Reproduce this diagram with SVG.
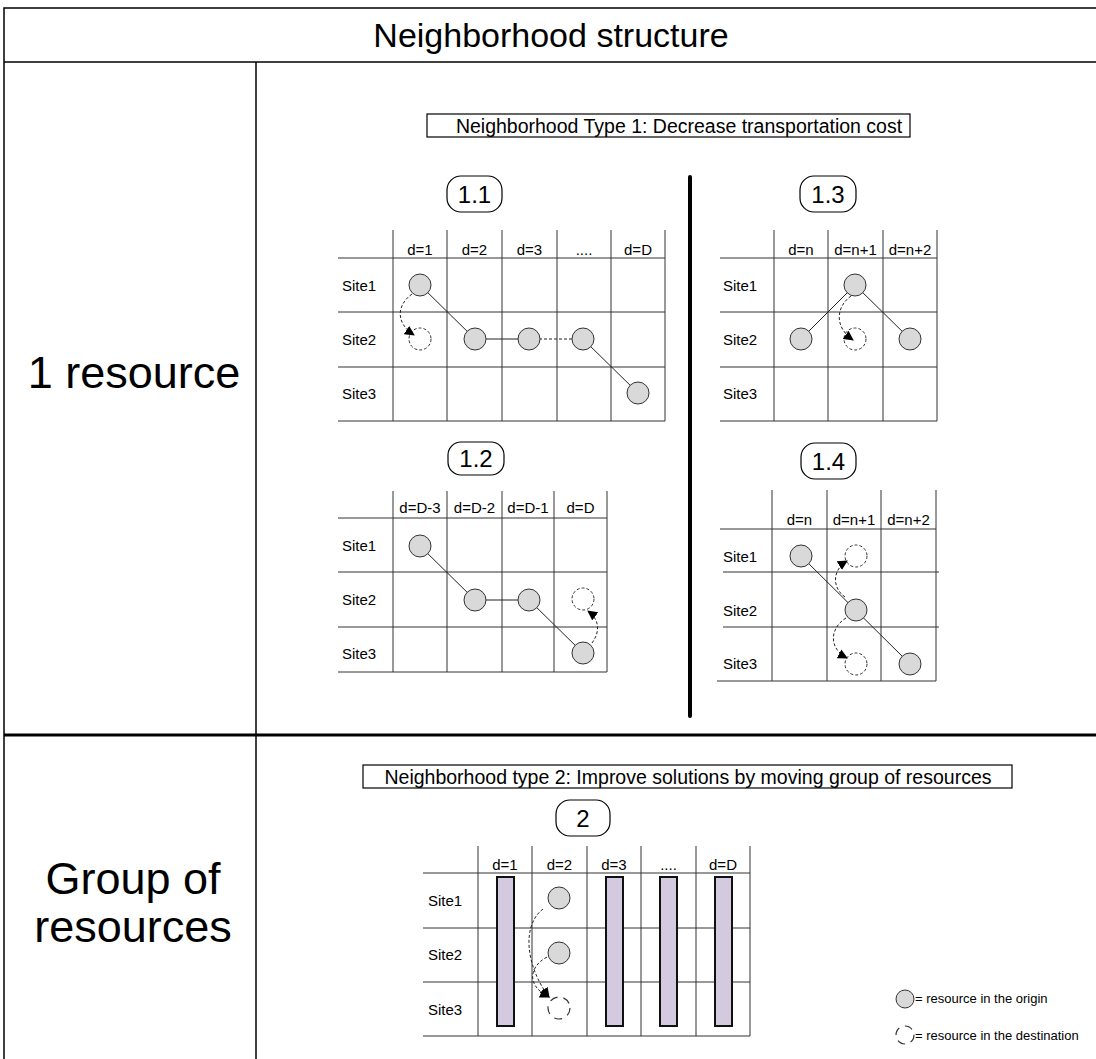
<svg xmlns="http://www.w3.org/2000/svg" width="1096" height="1059" viewBox="0 0 1096 1059">
  <style>
    text { font-family: "Liberation Sans", Arial, sans-serif; fill: #000; }
    .big { font-size: 45px; text-anchor: middle; }
    .title { font-size: 34px; text-anchor: middle; }
    .box { fill: #fff; stroke: #000; stroke-width: 1.2; }
    .boxt { font-size: 19.5px; text-anchor: middle; }
    .tag { fill: #fff; stroke: #000; stroke-width: 1.2; }
    .tagt { font-size: 24px; text-anchor: middle; }
    .grid { stroke: #333; stroke-width: 1; fill: none; }
    .hd { font-size: 15px; text-anchor: middle; }
    .site { font-size: 15px; }
    .res { fill: #d9d9d9; stroke: #333; stroke-width: 1; }
    .dest { fill: #fff; stroke: #333; stroke-width: 1; stroke-dasharray: 3 2; }
    .destl { fill: #fff; stroke: #333; stroke-width: 1.2; stroke-dasharray: 8 6; }
    .link { stroke: #222; stroke-width: 1; fill: none; }
    .linkd { stroke: #222; stroke-width: 1; fill: none; stroke-dasharray: 3 2; }
    .mv { stroke: #222; stroke-width: 1; fill: none; stroke-dasharray: 3 2; marker-end: url(#ah); }
    .bar { fill: #d4cae0; stroke: #111; stroke-width: 2; }
    .leg { font-size: 13px; }
  </style>
  <defs>
    <marker id="ah" viewBox="0 0 10 10" refX="9" refY="5" markerWidth="10" markerHeight="10" markerUnits="userSpaceOnUse" orient="auto">
      <path d="M0,0 L10,5 L0,10 z" fill="#000"/>
    </marker>
  </defs>

  <!-- frame and table -->
  <g id="table">
    <rect x="4" y="8" width="1100" height="1060" fill="#fff" stroke="#000" stroke-width="1.5"/>
    <line x1="4" y1="62" x2="1096" y2="62" stroke="#000" stroke-width="1.5"/>
    <line x1="256" y1="62" x2="256" y2="1059" stroke="#000" stroke-width="1.5"/>
    <line x1="4" y1="735" x2="1096" y2="735" stroke="#000" stroke-width="3"/>
    <text class="title" x="551" y="47">Neighborhood structure</text>
    <text class="big" x="134" y="388">1 resource</text>
    <text class="big" x="133" y="894">Group of</text>
    <text class="big" x="133" y="942">resources</text>
  </g>

  <!-- neighborhood type 1 heading -->
  <g id="type1-label">
    <rect class="box" x="427" y="114" width="483" height="23"/>
    <text class="boxt" x="679" y="132.5">Neighborhood Type 1: Decrease transportation cost</text>
  </g>

  <!-- separator between 1.1/1.2 and 1.3/1.4 -->
  <line x1="690" y1="177" x2="690" y2="716" stroke="#000" stroke-width="4" stroke-linecap="round"/>

  <!-- 1.1 -->
  <g id="n11">
    <rect class="tag" x="447" y="176" width="55" height="36" rx="14"/>
    <text class="tagt" x="474.5" y="203">1.1</text>
    <path class="grid" d="M393,230V421 M447,230V421 M502,230V421 M557,230V421 M611,230V421 M665,230V421 M338,258H665 M338,312H665 M338,367H665 M338,421H665"/>
    <text class="hd" x="420" y="255">d=1</text>
    <text class="hd" x="474.5" y="255">d=2</text>
    <text class="hd" x="529.5" y="255">d=3</text>
    <text class="hd" x="584" y="255">....</text>
    <text class="hd" x="638" y="255">d=D</text>
    <text class="site" x="342" y="291">Site1</text>
    <text class="site" x="342" y="345">Site2</text>
    <text class="site" x="342" y="399">Site3</text>
  </g>

  <!-- 1.3 -->
  <g id="n13">
    <rect class="tag" x="800" y="176" width="56" height="36" rx="14"/>
    <text class="tagt" x="828" y="203">1.3</text>
    <path class="grid" d="M774,230V421 M828,230V421 M883,230V421 M937,230V421 M720,258H937 M720,312H937 M720,367H937 M720,421H937"/>
    <text class="hd" x="801" y="255">d=n</text>
    <text class="hd" x="855.5" y="255">d=n+1</text>
    <text class="hd" x="910" y="255">d=n+2</text>
    <text class="site" x="723" y="291">Site1</text>
    <text class="site" x="723" y="345">Site2</text>
    <text class="site" x="723" y="399">Site3</text>
  </g>

  <!-- 1.2 -->
  <g id="n12">
    <rect class="tag" x="448" y="442" width="56" height="33" rx="13"/>
    <text class="tagt" x="476" y="467">1.2</text>
    <path class="grid" d="M393,491V672 M447,491V672 M502,491V672 M554,491V672 M607,491V672 M338,518H607 M338,572H607 M338,627H607 M338,672H607"/>
    <text class="hd" x="420" y="513">d=D-3</text>
    <text class="hd" x="474.5" y="513">d=D-2</text>
    <text class="hd" x="528" y="513">d=D-1</text>
    <text class="hd" x="580.5" y="513">d=D</text>
    <text class="site" x="342" y="551">Site1</text>
    <text class="site" x="342" y="605">Site2</text>
    <text class="site" x="342" y="659">Site3</text>
  </g>

  <!-- 1.4 -->
  <g id="n14">
    <rect class="tag" x="801" y="443" width="55" height="36" rx="14"/>
    <text class="tagt" x="828.5" y="470">1.4</text>
    <path class="grid" d="M772,490V681 M827,490V681 M881,490V681 M936,490V681 M720,529H936 M723,572H939 M723,627H939 M717,681H936"/>
    <text class="hd" x="799.5" y="525">d=n</text>
    <text class="hd" x="854" y="525">d=n+1</text>
    <text class="hd" x="908.5" y="525">d=n+2</text>
    <text class="site" x="723" y="562">Site1</text>
    <text class="site" x="723" y="616">Site2</text>
    <text class="site" x="723" y="669">Site3</text>
  </g>

  <!-- neighborhood type 2 heading -->
  <g id="type2-label">
    <rect class="box" x="363" y="765" width="649" height="23"/>
    <text class="boxt" x="688" y="783.5">Neighborhood type 2: Improve solutions by moving group of resources</text>
  </g>

  <!-- 2 -->
  <g id="n2">
    <rect class="tag" x="556" y="800" width="54" height="36" rx="14"/>
    <text class="tagt" x="583" y="827">2</text>
    <path class="grid" d="M478,846V1036 M532,846V1036 M587,846V1036 M641,846V1036 M696,846V1036 M750,846V1036 M423,873H750 M423,928H750 M423,982H750 M423,1036H750"/>
    <text class="hd" x="505" y="870">d=1</text>
    <text class="hd" x="559.5" y="870">d=2</text>
    <text class="hd" x="614" y="870">d=3</text>
    <text class="hd" x="668.5" y="870">....</text>
    <text class="hd" x="723" y="870">d=D</text>
    <text class="site" x="428" y="906">Site1</text>
    <text class="site" x="428" y="960">Site2</text>
    <text class="site" x="428" y="1015">Site3</text>
    <rect class="bar" x="497" y="877" width="17" height="149"/>
    <rect class="bar" x="606" y="877" width="17" height="149"/>
    <rect class="bar" x="660" y="877" width="17" height="149"/>
    <rect class="bar" x="715" y="877" width="17" height="149"/>
  </g>

  <!-- connectors: resource links -->
  <g id="connectors">
    <!-- 1.1 -->
    <line class="link" x1="420" y1="285" x2="475" y2="339"/>
    <line class="link" x1="475" y1="339" x2="529" y2="339"/>
    <line class="linkd" x1="529" y1="339" x2="583" y2="339"/>
    <line class="link" x1="583" y1="339" x2="638" y2="393"/>
    <!-- 1.3 -->
    <line class="link" x1="855" y1="285" x2="801" y2="339"/>
    <line class="link" x1="855" y1="285" x2="910" y2="339"/>
    <!-- 1.2 -->
    <line class="link" x1="420" y1="546" x2="475" y2="600"/>
    <line class="link" x1="475" y1="600" x2="529" y2="600"/>
    <line class="link" x1="529" y1="600" x2="583" y2="653"/>
    <!-- 1.4 -->
    <line class="link" x1="801" y1="556" x2="910" y2="664"/>
  </g>

  <!-- resources -->
  <g id="resources">
    <circle class="res" cx="420" cy="285" r="11"/>
    <circle class="dest" cx="420" cy="339" r="11"/>
    <circle class="res" cx="475" cy="339" r="11"/>
    <circle class="res" cx="529" cy="339" r="11"/>
    <circle class="res" cx="583" cy="339" r="11"/>
    <circle class="res" cx="638" cy="393" r="11"/>

    <circle class="res" cx="855" cy="285" r="11"/>
    <circle class="res" cx="801" cy="339" r="11"/>
    <circle class="dest" cx="855" cy="339" r="11"/>
    <circle class="res" cx="910" cy="339" r="11"/>

    <circle class="res" cx="420" cy="546" r="11"/>
    <circle class="res" cx="475" cy="600" r="11"/>
    <circle class="res" cx="529" cy="600" r="11"/>
    <circle class="dest" cx="583" cy="599" r="11"/>
    <circle class="res" cx="583" cy="653" r="11"/>

    <circle class="res" cx="801" cy="556" r="11"/>
    <circle class="dest" cx="856" cy="556" r="11"/>
    <circle class="res" cx="856" cy="610" r="11"/>
    <circle class="dest" cx="856" cy="664" r="11"/>
    <circle class="res" cx="910" cy="664" r="11"/>

    <circle class="res" cx="559" cy="898" r="11"/>
    <circle class="res" cx="559" cy="953" r="11"/>
    <circle class="destl" cx="559" cy="1008" r="11"/>
  </g>

  <!-- moves of resources -->
  <g id="moves">
    <path class="mv" d="M412,294 C398,304 394,322 414,335"/>
    <path class="mv" d="M851,296 C837,306 833,326 853,340"/>
    <path class="mv" d="M592,643 C600,632 600,620 588,611"/>
    <path class="mv" d="M845,597 C832,588 832,570 847,561"/>
    <path class="mv" d="M846,618 C830,628 828,648 847,658"/>
    <path class="mv" d="M543,909 C522,925 525,965 549,997"/>
    <path class="mv" d="M547,957 C530,966 525,985 549,997"/>
  </g>

  <!-- legend -->
  <g id="legend">
    <circle class="res" cx="905" cy="999" r="9"/>
    <text class="leg" x="915" y="1003">= resource in the origin</text>
    <circle class="destl" cx="905" cy="1035" r="9"/>
    <text class="leg" x="915" y="1040">= resource in the destination</text>
  </g>
</svg>
